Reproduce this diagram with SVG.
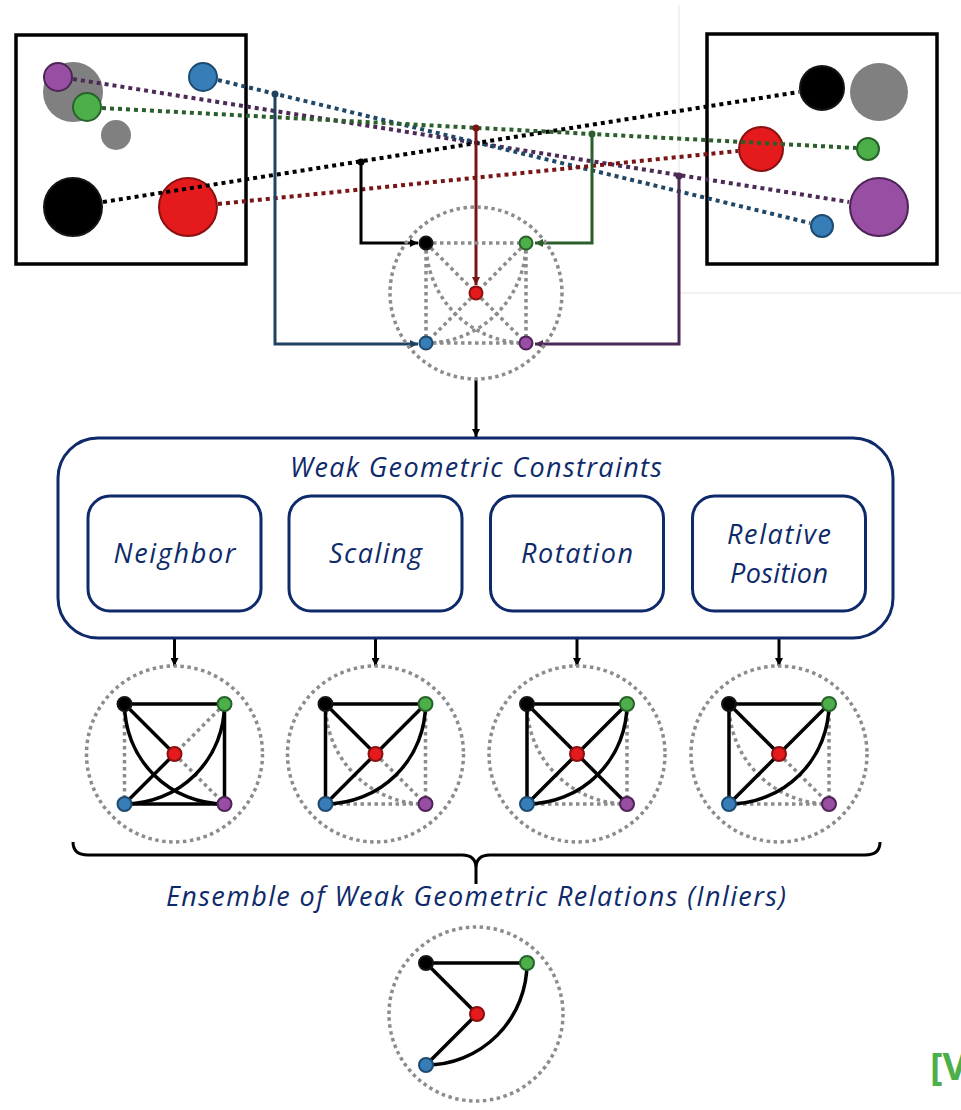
<svg xmlns="http://www.w3.org/2000/svg" width="961" height="1110" viewBox="0 0 961 1110">
<style>
.frame{fill:#fff;stroke:#000;stroke-width:3.5}
.grey{fill:#808080}
.nb{fill:#000;stroke:#151515;stroke-width:2}
.nr{fill:#e41a1c;stroke:#8a1011;stroke-width:2}
.ng{fill:#4daf4a;stroke:#27622a;stroke-width:2}
.nu{fill:#377eb8;stroke:#1d4a70;stroke-width:2}
.np{fill:#984ea3;stroke:#4d2456;stroke-width:2}
.match{fill:none;stroke-width:4;stroke-dasharray:4 4}
.conn{fill:none;stroke-width:3}
.ring{fill:none;stroke:#8c8c8c;stroke-width:3.5;stroke-dasharray:3.5 3.5}
.dot{fill:none;stroke:#8c8c8c;stroke-width:3.5;stroke-dasharray:3.5 3.5}
.sol{fill:none;stroke:#000;stroke-width:3.5}
.box{fill:#fff;stroke:#0e2a6a;stroke-width:3}
.lbl{font-family:"Open Sans","Noto Sans",sans-serif;font-style:italic;font-size:27px;fill:#0e2a6a;text-anchor:middle}
</style>
<defs>
<marker id="aK" viewBox="0 0 8 8" refX="8" refY="4" markerWidth="8" markerHeight="8" markerUnits="userSpaceOnUse" orient="auto"><path d="M0,0L8,4L0,8z" fill="#000"/></marker>
<marker id="aR" viewBox="0 0 8 8" refX="8" refY="4" markerWidth="8" markerHeight="8" markerUnits="userSpaceOnUse" orient="auto"><path d="M0,0L8,4L0,8z" fill="#7a1515"/></marker>
<marker id="aG" viewBox="0 0 8 8" refX="8" refY="4" markerWidth="8" markerHeight="8" markerUnits="userSpaceOnUse" orient="auto"><path d="M0,0L8,4L0,8z" fill="#2b5e2b"/></marker>
<marker id="aU" viewBox="0 0 8 8" refX="8" refY="4" markerWidth="8" markerHeight="8" markerUnits="userSpaceOnUse" orient="auto"><path d="M0,0L8,4L0,8z" fill="#1f4260"/></marker>
<marker id="aP" viewBox="0 0 8 8" refX="8" refY="4" markerWidth="8" markerHeight="8" markerUnits="userSpaceOnUse" orient="auto"><path d="M0,0L8,4L0,8z" fill="#4b2a55"/></marker>
</defs>
<rect width="961" height="1110" fill="#fff"/>
<line x1="679" y1="5" x2="679" y2="293" stroke="#e4e4e4" stroke-width="1"/>
<line x1="679" y1="293" x2="961" y2="293" stroke="#e4e4e4" stroke-width="1"/>

<g id="left-image">
<rect class="frame" x="16" y="35" width="230" height="229"/>
<circle class="grey" cx="73" cy="92" r="30"/>
<circle class="grey" cx="116" cy="135" r="15"/>
<circle class="np" cx="58" cy="77" r="14"/>
<circle class="ng" cx="87" cy="107" r="14"/>
<circle class="nu" cx="203" cy="77" r="14"/>
<circle class="nb" cx="73" cy="207" r="29"/>
<circle class="nr" cx="188" cy="207" r="29"/>
</g>
<g id="right-image">
<rect class="frame" x="707" y="34" width="230" height="230"/>
<circle class="nb" cx="822" cy="88" r="22"/>
<circle class="grey" cx="879" cy="92" r="29"/>
<circle class="nr" cx="761" cy="149" r="22"/>
<circle class="ng" cx="868" cy="149" r="11"/>
<circle class="np" cx="879" cy="207" r="29"/>
<circle class="nu" cx="822" cy="226" r="11"/>
</g>

<g id="connectors">
<line class="match" stroke="#4b2a55" x1="73" y1="79" x2="849" y2="202"/>
<line class="match" stroke="#1f4868" x1="218" y1="80" x2="810" y2="223"/>
<line class="match" stroke="#2b5e2b" x1="102" y1="108" x2="856" y2="148"/>
<line class="match" stroke="#000" x1="103" y1="202" x2="799" y2="92"/>
<line class="match" stroke="#7a1515" x1="218" y1="204" x2="738" y2="151"/>

<circle cx="275" cy="94" r="3.5" fill="#1f4260"/>
<circle cx="361" cy="162" r="3.5" fill="#000"/>
<circle cx="476" cy="128" r="3.5" fill="#7a1515"/>
<circle cx="592" cy="134" r="3.5" fill="#2b5e2b"/>
<circle cx="679" cy="176" r="3.5" fill="#4b2a55"/>
<path class="conn" stroke="#1f4260" d="M275,94V344H418" marker-end="url(#aU)"/>
<path class="conn" stroke="#000" d="M361,162V243H418" marker-end="url(#aK)"/>
<path class="conn" stroke="#7a1515" d="M476,128V285" marker-end="url(#aR)"/>
<path class="conn" stroke="#2b5e2b" d="M592,134V243H535" marker-end="url(#aG)"/>
<path class="conn" stroke="#4b2a55" d="M679,176V344H535" marker-end="url(#aP)"/>

<path class="conn" stroke="#000" d="M476,380V437" marker-end="url(#aK)"/>
<path class="conn" stroke="#000" d="M174.5,612V666" marker-end="url(#aK)"/>
<path class="conn" stroke="#000" d="M375.5,612V666" marker-end="url(#aK)"/>
<path class="conn" stroke="#000" d="M577,612V666" marker-end="url(#aK)"/>
<path class="conn" stroke="#000" d="M779,612V666" marker-end="url(#aK)"/>
<path class="conn" stroke="#000" d="M73,842Q73,855 88,855H462Q476,855 476,868Q476,855 490,855H865Q880,855 880,842M476,866V884"/>
</g>

<g id="top-graph" transform="translate(476,293)">
<circle class="ring" cx="0" cy="0" r="86"/>
<path class="dot" d="M-50,-50H50M-50,-50V50M50,-50V50M-50,50H50M-50,-50L0,0M50,-50L0,0M0,0L-50,50M0,0L50,50"/>
<path class="dot" d="M50,-50A100,100 0 0 1 -50,50M-50,-50A100,100 0 0 0 50,50"/>
<circle class="nb" cx="-50" cy="-50" r="6.5" stroke-width="1.5"/>
<circle class="ng" cx="50" cy="-50" r="6.5" stroke-width="1.5"/>
<circle class="nr" cx="0" cy="0" r="6.5" stroke-width="1.5"/>
<circle class="nu" cx="-50" cy="50" r="6.5" stroke-width="1.5"/>
<circle class="np" cx="50" cy="50" r="6.5" stroke-width="1.5"/>
</g>

<g id="constraints">
<rect class="box" x="58" y="438" width="835" height="200" rx="40"/>
<text class="lbl" x="476" y="477" textLength="372">Weak Geometric Constraints</text>
</g>
<g id="neighbor">
<rect class="box" x="88" y="496" width="173" height="115" rx="22"/>
<text class="lbl" x="174.5" y="563" textLength="122">Neighbor</text>
</g>
<g id="scaling">
<rect class="box" x="289" y="496" width="173" height="115" rx="22"/>
<text class="lbl" x="375.5" y="563" textLength="93">Scaling</text>
</g>
<g id="rotation">
<rect class="box" x="490.5" y="496" width="173" height="115" rx="22"/>
<text class="lbl" x="577" y="563" textLength="112">Rotation</text>
</g>
<g id="relative-position">
<rect class="box" x="692.5" y="496" width="173" height="115" rx="22"/>
<text class="lbl" x="779" y="544" textLength="104">Relative</text>
<text class="lbl" x="779" y="583" textLength="98">Position</text>
</g>

<g id="graph-neighbor" transform="translate(174.5,754)">
<circle class="ring" cx="0" cy="0" r="88"/>
<path class="dot" d="M-50,-50V50M50,-50L0,0M0,0L50,50"/>
<path class="sol" d="M-50,-50H50M-50,-50L0,0M0,0L-50,50M-50,50H50M50,-50V50"/>
<path class="sol" d="M50,-50A100,100 0 0 1 -50,50M-50,-50A100,100 0 0 0 50,50"/>
<circle class="nb" cx="-50" cy="-50" r="7"/><circle class="ng" cx="50" cy="-50" r="7"/><circle class="nr" cx="0" cy="0" r="7"/><circle class="nu" cx="-50" cy="50" r="7"/><circle class="np" cx="50" cy="50" r="7"/>
</g>
<g id="graph-scaling" transform="translate(375.5,754)">
<circle class="ring" cx="0" cy="0" r="88"/>
<path class="dot" d="M-50,-50A100,100 0 0 0 50,50M50,-50V50M-50,50H50M0,0L50,50"/>
<path class="sol" d="M-50,-50H50M-50,-50V50M-50,-50L0,0M50,-50L0,0M0,0L-50,50"/>
<path class="sol" d="M50,-50A100,100 0 0 1 -50,50"/>
<circle class="nb" cx="-50" cy="-50" r="7"/><circle class="ng" cx="50" cy="-50" r="7"/><circle class="nr" cx="0" cy="0" r="7"/><circle class="nu" cx="-50" cy="50" r="7"/><circle class="np" cx="50" cy="50" r="7"/>
</g>
<g id="graph-rotation" transform="translate(577,754)">
<circle class="ring" cx="0" cy="0" r="88"/>
<path class="dot" d="M-50,-50A100,100 0 0 0 50,50M50,-50V50M-50,50H50"/>
<path class="sol" d="M-50,-50H50M-50,-50V50M-50,-50L0,0M50,-50L0,0M0,0L-50,50M0,0L50,50"/>
<path class="sol" d="M50,-50A100,100 0 0 1 -50,50"/>
<circle class="nb" cx="-50" cy="-50" r="7"/><circle class="ng" cx="50" cy="-50" r="7"/><circle class="nr" cx="0" cy="0" r="7"/><circle class="nu" cx="-50" cy="50" r="7"/><circle class="np" cx="50" cy="50" r="7"/>
</g>
<g id="graph-relative" transform="translate(779,754)">
<circle class="ring" cx="0" cy="0" r="88"/>
<path class="dot" d="M-50,-50A100,100 0 0 0 50,50M50,-50V50M-50,50H50M0,0L50,50"/>
<path class="sol" d="M-50,-50H50M-50,-50V50M-50,-50L0,0M50,-50L0,0M0,0L-50,50"/>
<path class="sol" d="M50,-50A100,100 0 0 1 -50,50"/>
<circle class="nb" cx="-50" cy="-50" r="7"/><circle class="ng" cx="50" cy="-50" r="7"/><circle class="nr" cx="0" cy="0" r="7"/><circle class="nu" cx="-50" cy="50" r="7"/><circle class="np" cx="50" cy="50" r="7"/>
</g>

<g id="ensemble-label">
<text class="lbl" x="476" y="906" textLength="620">Ensemble of Weak Geometric Relations (Inliers)</text>
</g>

<g id="graph-final" transform="translate(476,1014)">
<circle class="ring" cx="0" cy="0" r="87"/>
<path class="sol" d="M-50,-51H51M-50,-51L1,0M1,0L-50,51"/>
<path class="sol" d="M51,-51A101,102 0 0 1 -50,51"/>
<circle class="nb" cx="-50" cy="-51" r="7"/><circle class="ng" cx="51" cy="-51" r="7"/><circle class="nr" cx="1" cy="0" r="7"/><circle class="nu" cx="-50" cy="51" r="7"/>
</g>

<text x="930" y="1080" font-family="'Open Sans','Noto Sans',sans-serif" font-weight="bold" font-size="38" fill="#4daf4a">[V</text>
</svg>
